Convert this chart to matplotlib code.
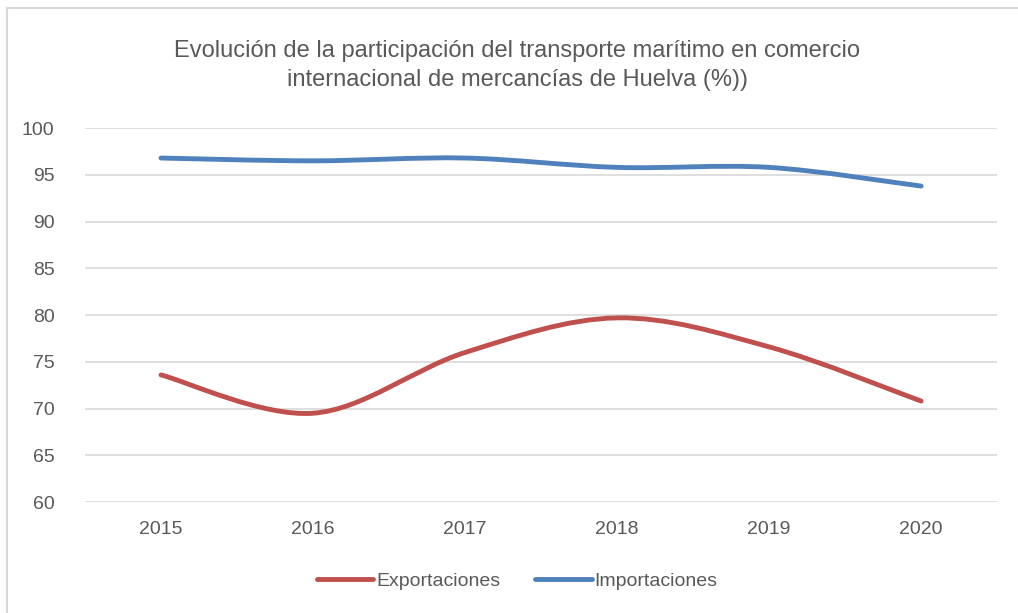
import matplotlib.pyplot as plt
from matplotlib.path import Path
from matplotlib.patches import PathPatch
from matplotlib.lines import Line2D

years = ['2015', '2016', '2017', '2018', '2019', '2020']
exportaciones = [73.6, 69.5, 76.0, 79.7, 76.6, 70.8]
importaciones = [96.8, 96.5, 96.8, 95.8, 95.8, 93.8]

fam = ['Liberation Sans Narrow', 'Liberation Sans', 'DejaVu Sans']
plt.rcParams['font.family'] = fam
txt = '#595959'


def smooth_path(xs, ys):
    # bezier smoothing like excel (catmull-rom control points)
    verts = [(xs[0], ys[0])]
    codes = [Path.MOVETO]
    n = len(xs)
    for i in range(n - 1):
        x0, y0 = (xs[i - 1], ys[i - 1]) if i > 0 else (xs[i], ys[i])
        x1, y1 = xs[i], ys[i]
        x2, y2 = xs[i + 1], ys[i + 1]
        x3, y3 = (xs[i + 2], ys[i + 2]) if i + 2 < n else (x2, y2)
        c1 = (x1 + (x2 - x0) / 6, y1 + (y2 - y0) / 6)
        c2 = (x2 - (x3 - x1) / 6, y2 - (y3 - y1) / 6)
        verts += [c1, c2, (x2, y2)]
        codes += [Path.CURVE4] * 3
    return Path(verts, codes)


fig = plt.figure(figsize=(10.18, 6.13), dpi=100)
ax = fig.add_axes([0.0835, 0.181, 0.896, 0.610])

xs = list(range(len(years)))
for vals, col in [(exportaciones, '#C0504D'), (importaciones, '#4F81BD')]:
    ax.add_patch(PathPatch(smooth_path(xs, vals), facecolor='none',
                           edgecolor=col, lw=3.5, capstyle='round', zorder=3))

ax.set_xlim(-0.5, 5.5)
ax.set_ylim(60, 100)
ax.set_yticks(range(60, 101, 5))
ax.set_xticks(xs)
ax.set_xticklabels(years)
ax.grid(axis='y', color='#D9D9D9', lw=1.2)
ax.set_axisbelow(True)
for s in ax.spines.values():
    s.set_visible(False)
ax.tick_params(length=0, labelsize=14, colors=txt)
ax.tick_params(axis='x', pad=14)
ax.tick_params(axis='y', pad=22)

fig.text(0.508, 0.893, 'Evolución de la participación del transporte marítimo en comercio\n'
         'internacional de mercancías de Huelva (%))', ha='center', va='center',
         fontsize=17, color=txt, linespacing=1.4)

handles = [Line2D([], [], color='#C0504D', lw=3.5, solid_capstyle='round'),
           Line2D([], [], color='#4F81BD', lw=3.5, solid_capstyle='round')]
fig.legend(handles, ['Exportaciones', 'Importaciones'], loc='center',
           bbox_to_anchor=(0.508, 0.052), ncol=2, frameon=False, fontsize=14,
           labelcolor=txt, handlelength=2.9, handletextpad=0.15, columnspacing=1.8)

# chart area border: only top and left edges are visible in the crop
border = dict(color='#D9D9D9', lw=1.5, transform=fig.transFigure)
fig.lines.append(Line2D([0.007, 1.0], [0.987, 0.987], **border))
fig.lines.append(Line2D([0.007, 0.007], [0.0, 0.987], **border))

fig.savefig('out.png', dpi=100)
